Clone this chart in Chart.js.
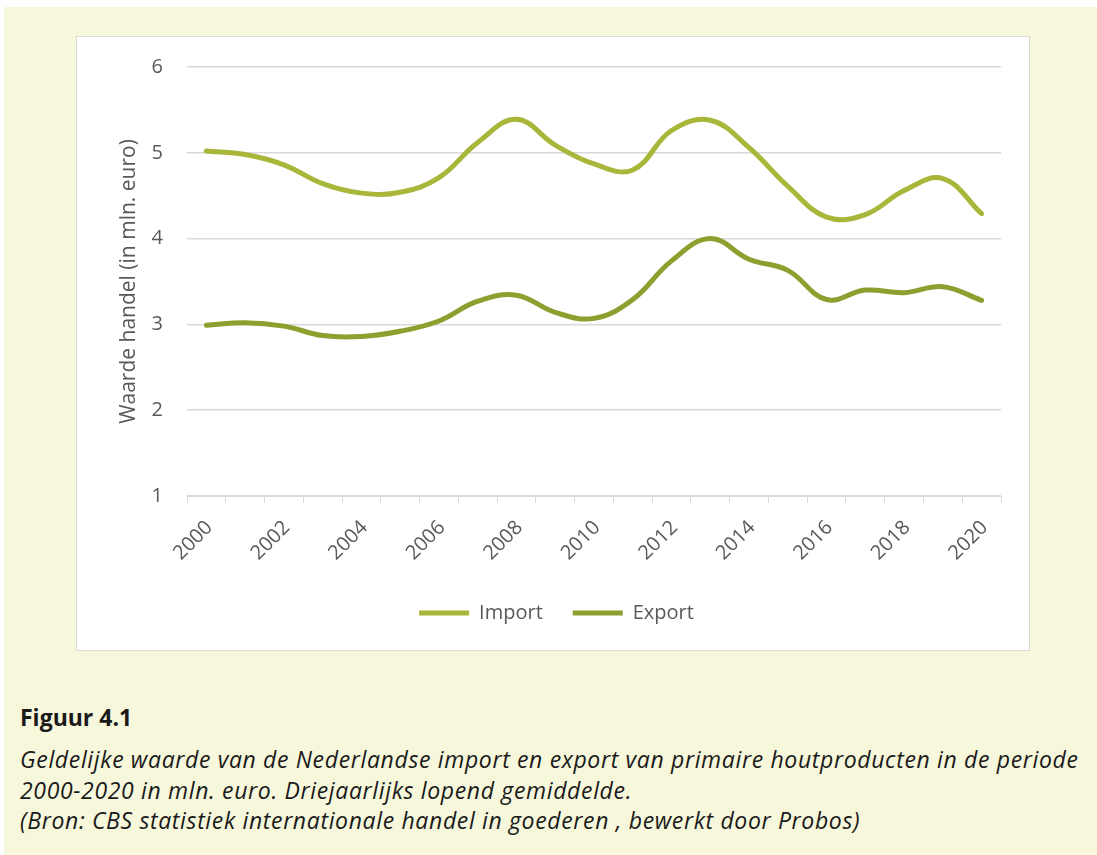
<!DOCTYPE html>
<html>
<head>
<meta charset="utf-8">
<script src="https://cdn.jsdelivr.net/npm/chart.js@4"></script>
<style>
  html, body { margin: 0; padding: 0; background: #fff; }
  body { width: 1097px; height: 855px; position: relative; overflow: hidden; font-family: "Open Sans", sans-serif; }
  .panel { position: absolute; left: 4px; top: 7px; width: 1093px; height: 848px; background: #f7f7dc; }
  .box { position: absolute; left: 76px; top: 36px; width: 952px; height: 613px; background: #fff; border: 1px solid #d9d9d9; }
  .cap { position: absolute; left: 20px; color: #1a1a1a; }
  .fig { top: 701px; font-weight: bold; font-size: 23px; }
  .txt { top: 744px; font-style: italic; font-size: 23px; line-height: 30.5px; letter-spacing: 0.65px; white-space: nowrap; }
</style>
</head>
<body>
<div class="panel"></div>
<div class="box"><canvas id="chart" width="952" height="613"></canvas></div>
<div class="cap fig">Figuur 4.1</div>
<div class="cap txt">Geldelijke waarde van de Nederlandse import en export van primaire houtproducten in de periode<br>2000-2020 in mln. euro. Driejaarlijks lopend gemiddelde.<br>(Bron: CBS statistiek internationale handel in goederen , bewerkt door Probos)</div>
<script>
const years = ['2000','2001','2002','2003','2004','2005','2006','2007','2008','2009','2010',
  '2011','2012','2013','2014','2015','2016','2017','2018','2019','2020'];
const importValues = [5.02, 4.98, 4.86, 4.64, 4.53, 4.54, 4.71, 5.12, 5.39, 5.09, 4.87,
  4.80, 5.26, 5.38, 5.06, 4.61, 4.25, 4.28, 4.56, 4.70, 4.29];
const exportValues = [2.99, 3.02, 2.98, 2.87, 2.86, 2.92, 3.04, 3.27, 3.34, 3.14, 3.07,
  3.29, 3.74, 4.00, 3.76, 3.63, 3.29, 3.40, 3.37, 3.44, 3.28];
const yTicks = [1, 2, 3, 4, 5, 6];

const grey = '#595959';
const gridGrey = '#d9d9d9';

new Chart(document.getElementById('chart'), {
  type: 'line',
  data: {
    labels: years,
    datasets: [
      { label: 'Import', data: importValues, borderColor: '#a8b63a', backgroundColor: '#a8b63a',
        borderWidth: 5, tension: 0.4, pointRadius: 0, borderCapStyle: 'round', fill: false },
      { label: 'Export', data: exportValues, borderColor: '#8e9f2f', backgroundColor: '#8e9f2f',
        borderWidth: 5, tension: 0.4, pointRadius: 0, borderCapStyle: 'round', fill: false }
    ]
  },
  options: {
    responsive: false,
    animation: false,
    layout: { padding: { top: 30, right: 28, left: 35, bottom: 17 } },
    plugins: {
      tooltip: { enabled: false },
      legend: {
        position: 'bottom',
        labels: {
          usePointStyle: true,
          pointStyle: 'line',
          pointStyleWidth: 50,
          color: grey,
          padding: 30,
          font: { family: 'Open Sans', size: 20 }
        }
      }
    },
    scales: {
      x: {
        offset: true,
        grid: { offset: true, drawOnChartArea: false, color: gridGrey, tickLength: 7, lineWidth: 1 },
        border: { color: gridGrey, width: 1 },
        ticks: {
          color: grey, autoSkip: false, minRotation: 45, maxRotation: 45, padding: 13, labelOffset: 3,
          font: { family: 'Open Sans', size: 20 },
          callback: function (v, i) { return i % 2 === 0 ? years[i] : ''; }
        },
        afterFit: function (s) { s.height = 77; }
      },
      y: {
        min: 1, max: 6,
        afterBuildTicks: function (s) { s.ticks = yTicks.map(v => ({ value: v })); },
        // transparent tick marks give the gap between labels and plot
        grid: { color: gridGrey, lineWidth: 1.5, drawTicks: true, tickLength: 24, tickColor: 'rgba(0,0,0,0)' },
        border: { display: false },
        ticks: { color: grey, padding: 0, font: { family: 'Open Sans', size: 20 } },
        title: { display: true, text: 'Waarde handel (in mln. euro)', color: grey,
          font: { family: 'Open Sans', size: 21 }, padding: { bottom: 8 } },
        afterFit: function (s) { s.width = 75; }
      }
    }
  }
});
</script>
</body>
</html>
